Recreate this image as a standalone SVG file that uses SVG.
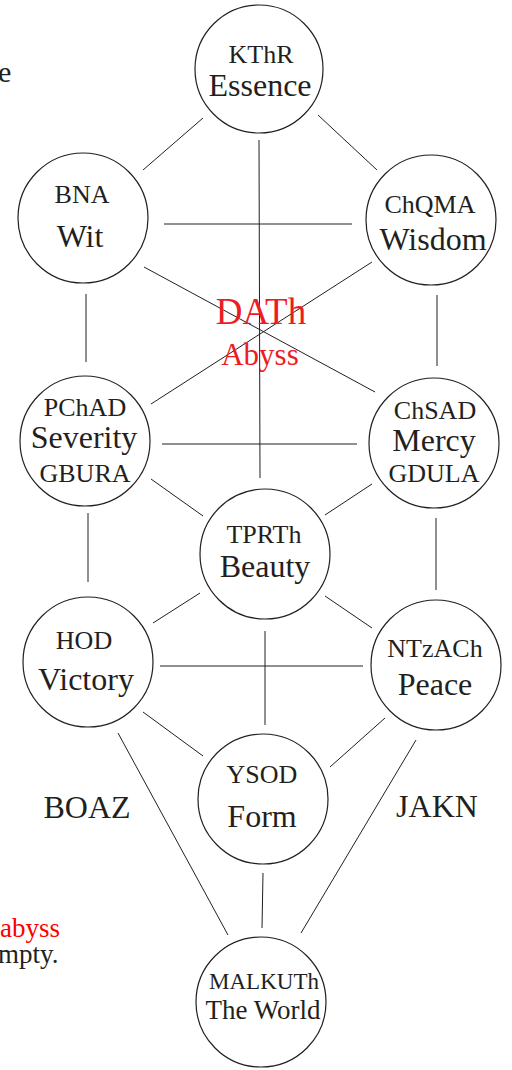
<svg xmlns="http://www.w3.org/2000/svg" width="512" height="1070" viewBox="0 0 512 1070">
<style>
.n{fill:#fff;stroke:#231f20;stroke-width:1.2}
.c line{stroke:#231f20;stroke-width:1}
text{font-family:"Liberation Serif","Times New Roman",serif;fill:#231f20;text-anchor:middle}
.s{font-size:26px}
.b{font-size:32px}
.r{fill:#ed1c24}
.l{text-anchor:start}
</style>
<rect width="512" height="1070" fill="#fff"/>
<g class="c" id="connectors">
<line x1="203" y1="118" x2="143" y2="170"/>
<line x1="318" y1="115" x2="377" y2="170"/>
<line x1="259" y1="140" x2="260" y2="478"/>
<line x1="164" y1="224" x2="352" y2="224"/>
<line x1="144" y1="267" x2="375" y2="392"/>
<line x1="372" y1="262" x2="151" y2="404"/>
<line x1="86" y1="294" x2="86" y2="362"/>
<line x1="437" y1="295" x2="437" y2="366"/>
<line x1="162" y1="444" x2="357" y2="444"/>
<line x1="151" y1="479" x2="203" y2="516"/>
<line x1="372" y1="484" x2="325" y2="515"/>
<line x1="88" y1="513" x2="88" y2="582"/>
<line x1="436" y1="518" x2="436" y2="590"/>
<line x1="200" y1="593" x2="153" y2="623"/>
<line x1="325" y1="596" x2="372" y2="628"/>
<line x1="160" y1="666" x2="363" y2="666"/>
<line x1="265" y1="631" x2="265" y2="725"/>
<line x1="143" y1="712" x2="203" y2="756"/>
<line x1="385" y1="718" x2="330" y2="767"/>
<line x1="118" y1="733" x2="228" y2="935"/>
<line x1="416" y1="740" x2="301" y2="933"/>
<line x1="263" y1="873" x2="262" y2="928"/>
</g>
<g id="keter"><circle class="n" cx="259" cy="69" r="64"/><text class="s" x="261" y="63">KThR</text><text class="b" x="260" y="96">Essence</text></g>
<g id="binah"><circle class="n" cx="83" cy="218" r="65"/><text class="s" x="82" y="203">BNA</text><text class="b" x="80" y="247">Wit</text></g>
<g id="chokmah"><circle class="n" cx="431" cy="220" r="65"/><text class="s" x="430" y="213">ChQMA</text><text class="b" x="433" y="250">Wisdom</text></g>
<g id="daath"><text class="r" x="261" y="324" font-size="37">DATh</text><text class="r" x="260" y="365" font-size="31">Abyss</text></g>
<g id="geburah"><circle class="n" cx="85" cy="441" r="65"/><text class="s" x="85" y="416">PChAD</text><text class="b" x="84" y="448">Severity</text><text class="s" x="85" y="482">GBURA</text></g>
<g id="chesed"><circle class="n" cx="434" cy="443" r="65"/><text class="s" x="435" y="419">ChSAD</text><text class="b" x="434" y="451">Mercy</text><text class="s" x="434" y="482">GDULA</text></g>
<g id="tiphareth"><circle class="n" cx="265" cy="554" r="65"/><text class="s" x="264" y="543">TPRTh</text><text class="b" x="265" y="577">Beauty</text></g>
<g id="hod"><circle class="n" cx="88" cy="662" r="65"/><text class="s" x="84" y="649">HOD</text><text class="b" x="86" y="690">Victory</text></g>
<g id="netzach"><circle class="n" cx="436" cy="665" r="65"/><text class="s" x="435" y="657">NTzACh</text><text class="b" x="435" y="695">Peace</text></g>
<g id="yesod"><circle class="n" cx="263" cy="799" r="65"/><text class="s" x="262" y="783">YSOD</text><text class="b" x="262" y="827">Form</text></g>
<g id="malkuth"><circle class="n" cx="261" cy="1002" r="65"/><text x="264" y="989" font-size="23">MALKUTh</text><text x="263" y="1019" font-size="27">The World</text></g>
<g id="pillars"><text class="b" x="87" y="818">BOAZ</text><text class="b" x="437" y="817">JAKN</text></g>
<g id="notes"><text class="l" x="-2" y="82" font-size="30">e</text><text class="l" x="0" y="937" font-size="27" style="fill:#ff0000">abyss</text><text class="l" x="-2" y="963" font-size="27">mpty.</text></g>
</svg>
